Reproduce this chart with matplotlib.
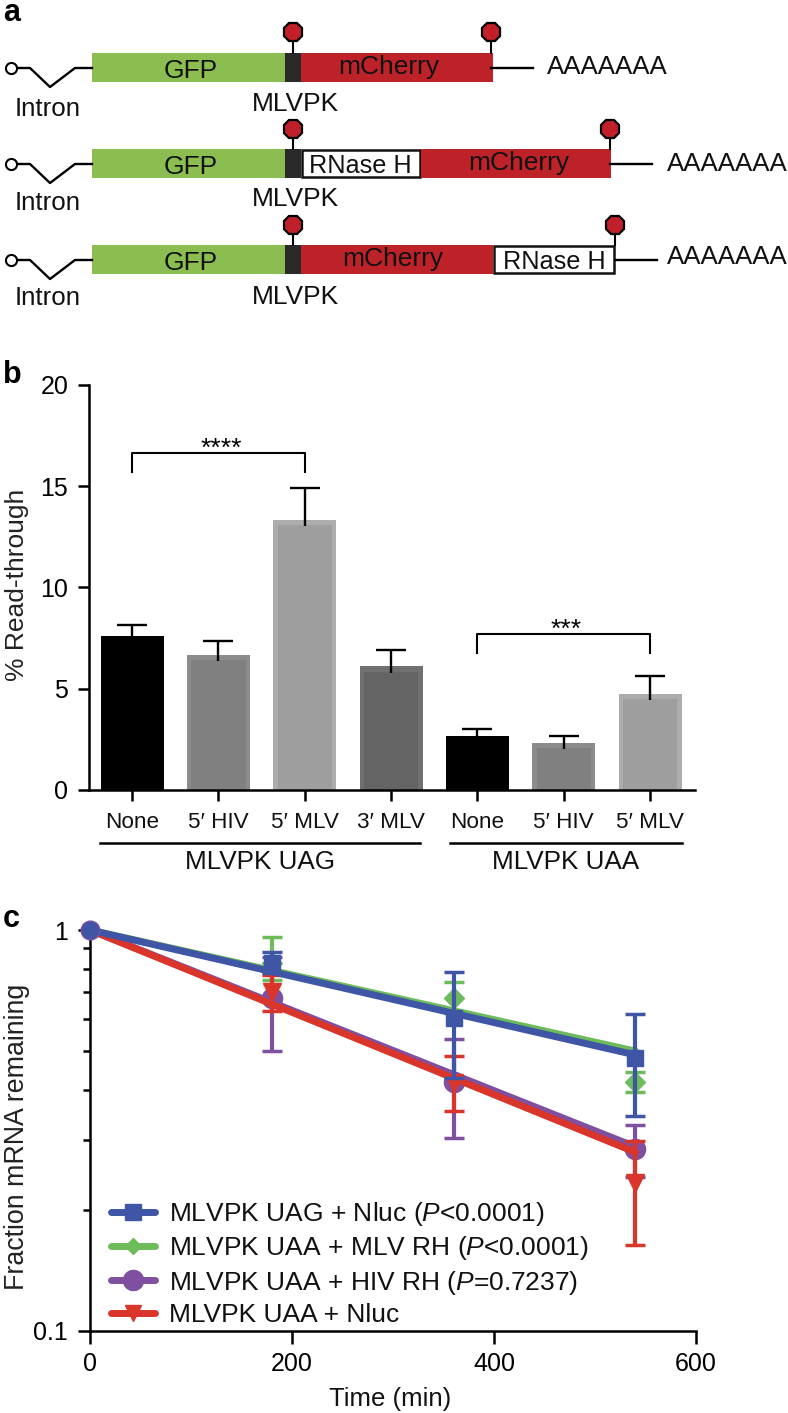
import numpy as np
import matplotlib
matplotlib.use("Agg")
import matplotlib.pyplot as plt
from matplotlib.lines import Line2D
from matplotlib.patches import Rectangle

plt.rcParams['font.family'] = ['Liberation Sans', 'DejaVu Sans']
plt.rcParams['mathtext.fontset'] = 'custom'
plt.rcParams['mathtext.it'] = 'Liberation Sans:italic'
plt.rcParams['mathtext.rm'] = 'Liberation Sans'

W, H = 788, 1413

# panel b
bar_labels = ["None", "5\u2032 HIV", "5\u2032 MLV", "3\u2032 MLV", "None", "5\u2032 HIV", "5\u2032 MLV"]
bar_values = [7.6, 6.65, 13.35, 6.1, 2.65, 2.3, 4.75]
bar_tops = [8.15, 7.35, 14.9, 6.9, 3.0, 2.65, 5.65]
bar_outer = ['#000000', '#8c8c8c', '#adadad', '#707070', '#000000', '#8c8c8c', '#adadad']
bar_inner = ['#000000', '#808080', '#9e9e9e', '#646464', '#000000', '#808080', '#9e9e9e']

# panel c: means, error limits and fitted end values
times = [0, 180, 360, 540]
blue_y = [1, 0.827, 0.603, 0.479]
blue_hi = [1, 0.881, 0.786, 0.617]
blue_lo = [1, 0.781, 0.427, 0.344]
green_y = [1, 0.827, 0.677, 0.418]
green_hi = [1, 0.961, 0.742, 0.443]
green_lo = [1, 0.750, 0.621, 0.394]
purple_y = [1, 0.677, 0.418, 0.284]
purple_hi = [1, 0.856, 0.535, 0.326]
purple_lo = [1, 0.499, 0.303, 0.242]
red_y = [1, 0.700, 0.415, 0.234]
red_hi = [1, 0.772, 0.485, 0.298]
red_lo = [1, 0.628, 0.354, 0.164]
fit_t = [0, 540]
blue_fit = [1, 0.488]
green_fit = [1, 0.499]
purple_fit = [1, 0.288]
red_fit = [1, 0.279]

BLUE, GREEN, PURPLE, RED = '#3f55a5', '#6dbb5a', '#7f4fa0', '#d9352a'
TXT = '#111111'


def rect(left, top, right, bottom):
    return [left / W, 1 - bottom / H, (right - left) / W, (bottom - top) / H]


fig = plt.figure(figsize=(W / 100, H / 100), dpi=100)

# overlay in pixel coordinates for the schematic and loose labels
ov = fig.add_axes([0, 0, 1, 1])
ov.set_xlim(0, W)
ov.set_ylim(H, 0)
ov.axis('off')

GFP_C, CHERRY_C, PK_C = '#8bbd50', '#be2229', '#2a2a2a'


def construct(top, head_y, stop_x, segs, line_end, a_x, a_y, intron_y, pk_y):
    mid = top + 15
    ov.plot([15, 30, 50, 75, 92], [mid, mid, mid + 19, mid, mid], color='black', lw=1.7)
    ov.plot([11], [mid], 'o', ms=8, mfc='white', mec='black', mew=1.5)
    ov.plot([stop_x, line_end], [mid, mid], color='black', lw=1.7)
    ov.add_patch(Rectangle((92, top), 193, 29, fc=GFP_C, ec='none'))
    ov.text(191, top + 25, 'GFP', ha='center', va='baseline', fontsize=19, color=TXT)
    ov.add_patch(Rectangle((285, top), 16, 29, fc=PK_C, ec='none'))
    for x0, x1, name, tx in segs:
        if name == 'RNase H':
            ov.add_patch(Rectangle((x0 + 1, top + 1), x1 - x0 - 2, 27, fc='white', ec=TXT, lw=1.8))
            ov.text(tx, top + 24, name, ha='center', va='baseline', fontsize=18.2, color=TXT)
        else:
            ov.add_patch(Rectangle((x0, top), x1 - x0, 29, fc=CHERRY_C, ec='none'))
            ov.text(tx, top + 21, name, ha='center', va='baseline', fontsize=19, color=TXT)
    for x in (293, stop_x):
        ov.plot([x, x], [head_y, top], color='black', lw=1.5)
        ov.plot([x], [head_y], marker='8', ms=14, mfc='#c1202a', mec='black', mew=1.6)
    ov.text(a_x, a_y, 'AAAAAAA', ha='left', va='center', fontsize=18.6, color=TXT)
    ov.text(48, intron_y, 'Intron', ha='center', va='center', fontsize=18.6, color=TXT)
    ov.text(295, pk_y, 'MLVPK', ha='center', va='center', fontsize=19, color=TXT)


construct(53, 32, 491, [(301, 493, 'mCherry', 389)], 533, 547, 67, 109, 104)
construct(149, 129, 610, [(301, 421, 'RNase H', 360), (421, 611, 'mCherry', 519)], 652, 667, 164, 203, 199)
construct(245, 225, 615, [(301, 493, 'mCherry', 393), (493, 615, 'RNase H', 554)], 657, 667, 257, 298, 297)

for letter, y in (('a', 13), ('b', 375), ('c', 919)):
    ov.text(3, y, letter, ha='left', va='center', fontsize=22, fontweight='bold')

# panel b
ax = fig.add_axes(rect(89, 385, 695, 790))
x = np.arange(len(bar_values))
ax.bar(x, bar_values, width=0.73, color=bar_outer)
ax.bar(x, np.array(bar_values) - 0.25, width=0.63, color=bar_inner)
ax.vlines(x, np.array(bar_values) - 0.3, bar_tops, color='black', lw=1.7)
ax.plot(x, bar_tops, '_', color='black', ms=21, mew=1.7)
ax.set_xlim(-0.5, 6.52)
ax.set_ylim(0, 20)
ax.set_yticks([0, 5, 10, 15, 20])
ax.set_xticks(x)
ax.set_xticklabels(bar_labels, fontsize=16.2, color=TXT)
ax.tick_params(axis='y', length=8, width=1.8, labelsize=18, pad=7)
ax.tick_params(axis='x', length=8, width=1.8, pad=8)
for s in ('top', 'right'):
    ax.spines[s].set_visible(False)
for s in ('left', 'bottom'):
    ax.spines[s].set_linewidth(1.8)

ax.plot([0, 0, 2, 2], [15.7, 16.64, 16.64, 15.7], color='black', lw=1.5)
ax.plot([4, 4, 6, 6], [6.77, 7.7, 7.7, 6.77], color='black', lw=1.5)
ax.text(1.03, 16.85, '****', ha='center', va='center', fontsize=19)
ax.text(5.03, 7.9, '***', ha='center', va='center', fontsize=19)

ov.plot([100, 420], [842.5, 842.5], color='black', lw=1.8)
ov.plot([450, 682], [842.5, 842.5], color='black', lw=1.8)
ov.text(260, 862, 'MLVPK UAG', ha='center', va='center', fontsize=18.8, color=TXT)
ov.text(566, 862, 'MLVPK UAA', ha='center', va='center', fontsize=18.8, color=TXT)
ov.text(17, 585, '% Read-through', rotation=90, ha='center', va='center', fontsize=19, color='#222222')

# panel c
ax2 = fig.add_axes(rect(90, 930, 696, 1331))
ax2.set_yscale('log')
series = [
    (green_fit, green_y, green_lo, green_hi, GREEN, 'D', 10),
    (purple_fit, purple_y, purple_lo, purple_hi, PURPLE, 'o', 14.5),
    (red_fit, red_y, red_lo, red_hi, RED, 'v', 13),
    (blue_fit, blue_y, blue_lo, blue_hi, BLUE, 's', 11.5),
]
for i, (fit, y, lo, hi, c, m, ms) in enumerate(series):
    y, lo, hi = np.array(y), np.array(lo), np.array(hi)
    z = 3 + i
    ax2.plot(fit_t, fit, color=c, lw=5, zorder=z, clip_on=False, solid_capstyle='round')
    ax2.errorbar(times[1:], y[1:], yerr=[y[1:] - lo[1:], hi[1:] - y[1:]], fmt='none', ecolor=c,
                 elinewidth=3, capsize=7.5, capthick=2.5, zorder=z)
    ax2.plot(times[1:], y[1:], ls='none', marker=m, ms=ms, color=c, mec=c, zorder=z, clip_on=False)
# at t=0 all series coincide and read as one blue disc with a purple rim
ax2.plot(times[:1], blue_y[:1], ls='none', marker='o', ms=13.5, mfc=BLUE, mec=PURPLE, mew=1,
         zorder=8, clip_on=False)

ax2.set_xlim(0, 600)
ax2.set_ylim(0.1, 1)
ax2.set_xticks([0, 200, 400, 600])
ax2.set_yticks([0.1, 1])
ax2.set_yticklabels(['0.1', '1'])
ax2.set_yticks([0.2, 0.3, 0.4, 0.5, 0.6, 0.7, 0.8, 0.9], minor=True)
ax2.set_yticklabels([], minor=True)
ax2.tick_params(axis='both', which='major', length=9, width=1.8, labelsize=18, pad=7)
ax2.tick_params(axis='y', which='minor', length=5, width=1.8)
ax2.tick_params(axis='x', which='major', pad=6)
for s in ('top', 'right'):
    ax2.spines[s].set_visible(False)
for s in ('left', 'bottom'):
    ax2.spines[s].set_linewidth(1.8)

ov.text(390, 1399, 'Time (min)', ha='center', va='center', fontsize=18.5, color=TXT)
ov.text(17, 1137, 'Fraction mRNA remaining', rotation=90, ha='center', va='center', fontsize=19.3, color='#222222')

handles = [
    Line2D([], [], color=BLUE, lw=5, marker='s', ms=11.5, solid_capstyle='round'),
    Line2D([], [], color=GREEN, lw=5, marker='D', ms=8, solid_capstyle='round'),
    Line2D([], [], color=PURPLE, lw=5, marker='o', ms=14.5, solid_capstyle='round'),
    Line2D([], [], color=RED, lw=5, marker='v', ms=11, solid_capstyle='round'),
]
labels = [
    'MLVPK UAG + Nluc ($\\mathit{P}$<0.0001)',
    'MLVPK UAA + MLV RH ($\\mathit{P}$<0.0001)',
    'MLVPK UAA + HIV RH ($\\mathit{P}$=0.7237)',
    'MLVPK UAA + Nluc',
]
ax2.legend(handles, labels, loc='lower left', bbox_to_anchor=(21 / 606, 4 / 401), frameon=False,
           fontsize=19, labelspacing=0.24, handlelength=1.65, handletextpad=0.55, borderpad=0,
           borderaxespad=0, labelcolor=TXT)

fig.savefig('out.png', dpi=100)
